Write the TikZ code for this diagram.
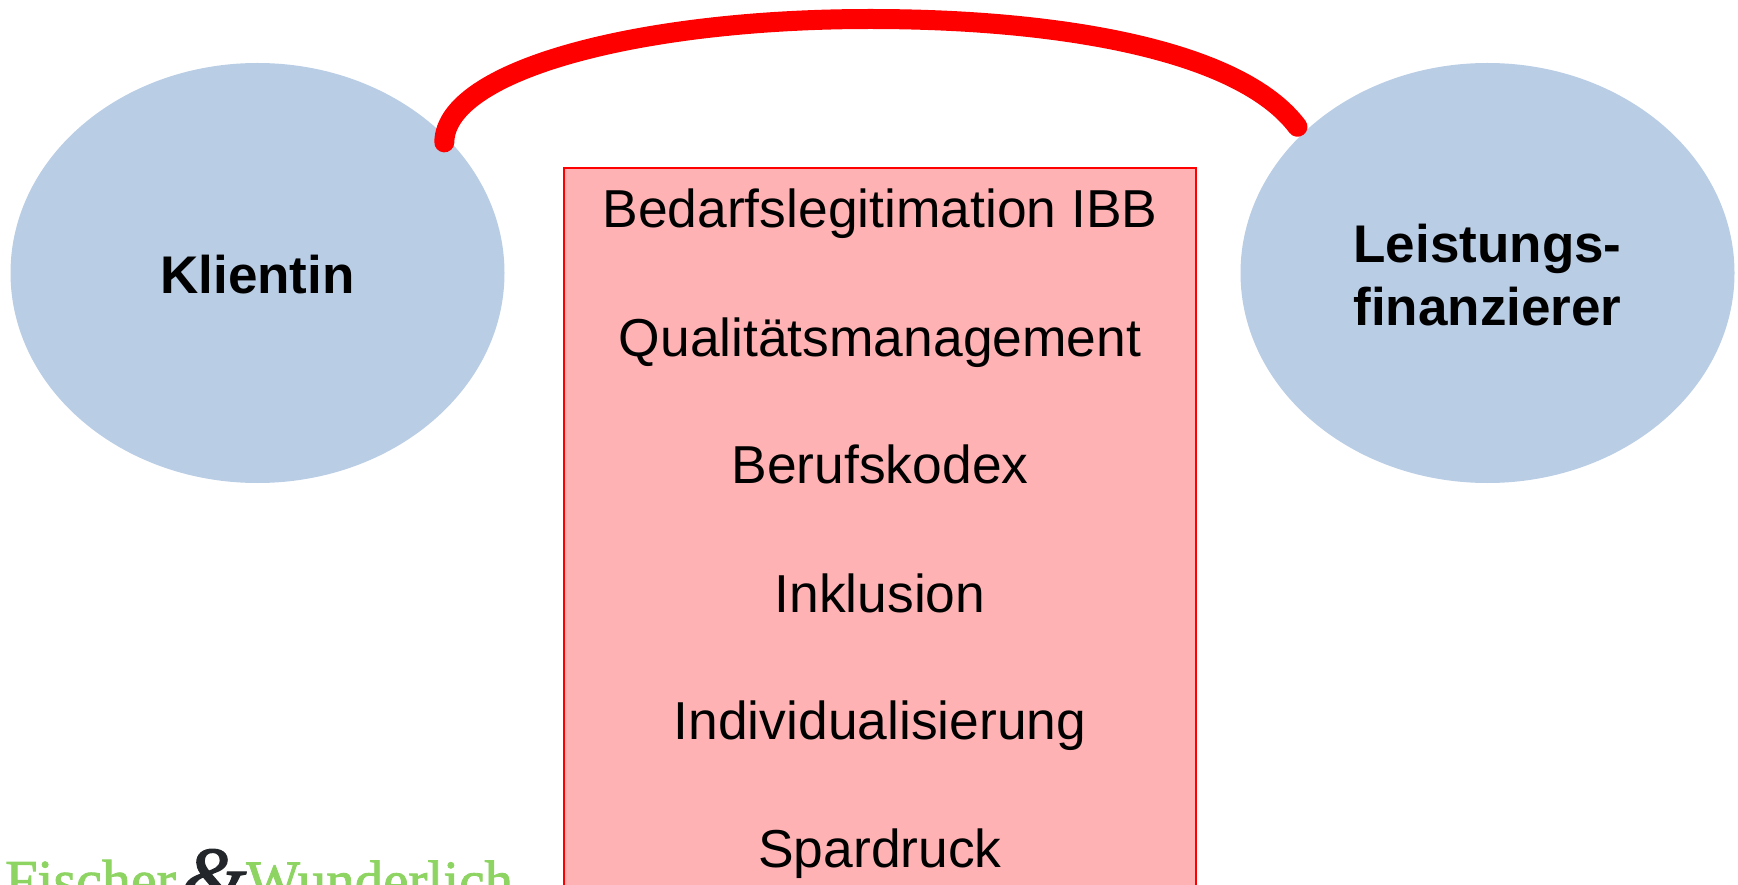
\documentclass[tikz,border=0pt]{standalone}
\usepackage{fontspec}
\usetikzlibrary{shapes.geometric}
\setmainfont{Liberation Sans}
\newfontfamily\logofont[FakeBold=1.5]{Liberation Serif}
\definecolor{ellipseblue}{RGB}{185,205,229}
\definecolor{boxred}{RGB}{254,178,180}
\definecolor{logogreen}{RGB}{141,212,98}
\definecolor{logodark}{RGB}{35,38,42}
\tikzset{
    party/.style={ellipse,fill=ellipseblue,minimum width=494pt,minimum height=420pt,inner sep=0pt},
    partylabel/.style={align=center,inner sep=0pt,font=\fontsize{53}{63}\selectfont\bfseries},
    topic/.style={anchor=base,inner sep=0pt,font=\fontsize{53.4}{60}\selectfont},
    logotext/.style={anchor=base west,inner sep=0pt,text=logogreen,font=\fontsize{58}{64}\logofont},
  }
\begin{document}
\begin{tikzpicture}[x=1pt,y=-1pt]
				  \useasboundingbox (0,0) rectangle (1738,885);
				  %partner
				  \node[party](klientin) at (257.5,273) {};
				  \node[party](finanzierer) at (1487.5,273) {};
				  \node[partylabel](klientintext) at (257.5,275) {Klientin};
				  \node[partylabel](finanzierertext) at (1487.5,275) {Leistungs-\\finanzierer};
				  %rahmen
				  \draw[red,fill=boxred,line width=2.5pt] (564,168) rectangle (1196,900);
				  \node[topic](bedarf) at (880,228) {Bedarfslegitimation IBB};
				  \node[topic](quali) at (880,356) {Qualitätsmanagement};
				  \node[topic](kodex) at (880,483) {Berufskodex};
				  \node[topic](inklusion) at (880,612) {Inklusion};
				  \node[topic](indiv) at (880,739.5) {Individualisierung};
				  \node[topic](spar) at (880,867) {Spardruck};
				  %verbindung
				  \draw[red,line width=20pt,line cap=round] ([shift={(-4,3)}]klientin.35)
				    .. controls (445,70) and (640,19) .. (870,19)
				    .. controls (1060,19) and (1240,50) .. ([shift={(-8,-4)}]finanzierer.142);
				  %logo
				  \node[logotext](fischer) at (5,900) {Fischer};
				  \node[logotext,text=logodark,font=\fontsize{84}{88}\logofont\itshape](und) at (181,905) {\&};
				  \node[logotext,font=\fontsize{57}{64}\logofont](wunderlich) at (246,900) {Wunderlich};
\end{tikzpicture}
\end{document}
